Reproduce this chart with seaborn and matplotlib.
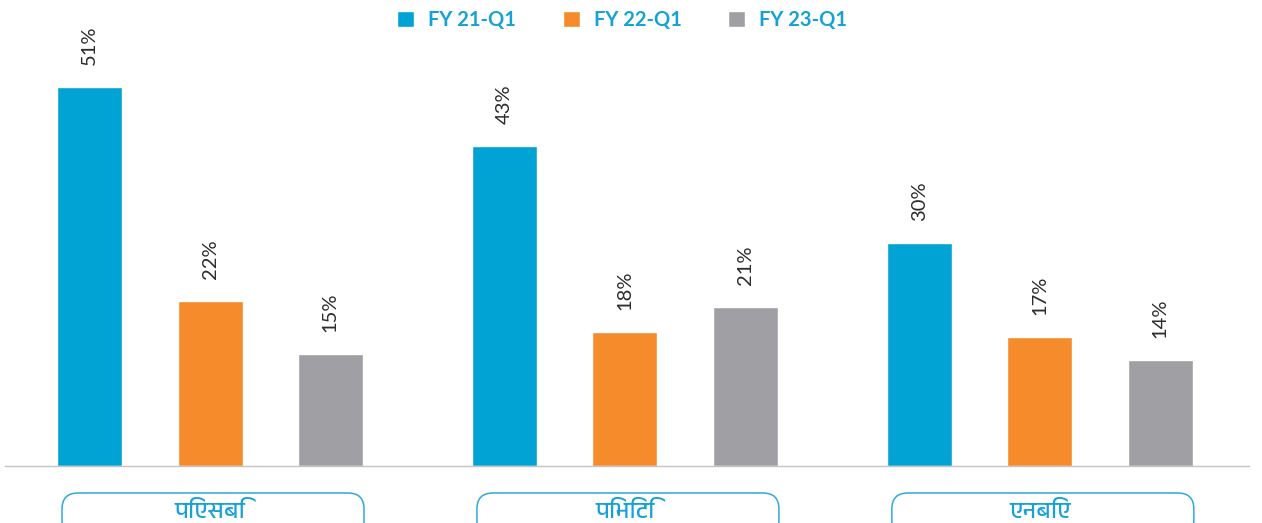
import pandas as pd
import seaborn as sns
import matplotlib.pyplot as plt
from matplotlib import font_manager
from matplotlib.patches import FancyBboxPatch
from matplotlib.transforms import IdentityTransform

# data
categorias = ['पिएसबि', 'पिभिटि', 'एनबिए']
series = ['FY 21-Q1', 'FY 22-Q1', 'FY 23-Q1']
fy21 = [51, 43.1, 30]
fy22 = [22.2, 18, 17.4]
fy23 = [15.1, 21.4, 14.3]

cores = ['#00A3D3', '#F68B2B', '#A0A0A4']
azul_texto = '#16A2D6'

df = pd.DataFrame({
    'categoria': categorias * 3,
    'serie': [s for s in series for _ in categorias],
    'valor': fy21 + fy22 + fy23,
})

sns.set_style('white')
plt.rcParams['font.family'] = ['Lato', 'DejaVu Sans']

# fonte com devanagari, se houver
deva = [f.name for f in font_manager.fontManager.ttflist
        if 'Devanagari' in f.name or 'Mukta' in f.name or 'Lohit' in f.name]
fam_deva = [deva[0], 'DejaVu Sans'] if deva else ['Noto Sans', 'DejaVu Sans']

fig = plt.figure(figsize=(12.62, 5.23), dpi=100)
ax = fig.add_axes([0.004, 1 - 466 / 523, 0.986, 436 / 523])

sns.barplot(data=df, x='categoria', y='valor', hue='serie', palette=cores,
            width=0.87, gap=0.46, ax=ax, saturation=1)

ax.set_xlim(-0.494, 2.505)
ax.set_ylim(0, 58.7)

for cont in ax.containers:
    ax.bar_label(cont, labels=[f'{v:.0f}%' for v in cont.datavalues],
                 rotation=90, padding=16, fontsize=14.5, color='#2b2b2b')

for lado in ['top', 'right', 'left']:
    ax.spines[lado].set_visible(False)
ax.spines['bottom'].set_color('#C4C4C4')
ax.spines['bottom'].set_linewidth(1)
ax.set_xlabel('')
ax.set_ylabel('')
ax.set_yticks([])
ax.set_xticks([])

leg = ax.legend(loc='upper center', bbox_to_anchor=(0.493, 1 + 8 / 523),
                bbox_transform=fig.transFigure, ncol=3, frameon=False,
                handlelength=0.85, handleheight=0.85, handletextpad=0.7,
                columnspacing=2.3, fontsize=14.5)
for t in leg.get_texts():
    t.set_color(azul_texto)
    t.set_fontweight('bold')

# caixas arredondadas com os nomes
fig.canvas.draw()
for i, nome in enumerate(categorias):
    cx = ax.transData.transform((i, 0))[0]
    caixa = FancyBboxPatch((cx - 148, -14), 302, 44,
                           boxstyle='round,pad=0,rounding_size=16',
                           transform=IdentityTransform(), fill=False,
                           edgecolor='#2FA9D9', linewidth=1.1, clip_on=False)
    fig.add_artist(caixa)
    fig.text(cx / fig.bbox.width, 12 / fig.bbox.height, nome, ha='center',
             va='center', fontsize=17, color=azul_texto, family=fam_deva)

fig.savefig('out.png', dpi=100)
